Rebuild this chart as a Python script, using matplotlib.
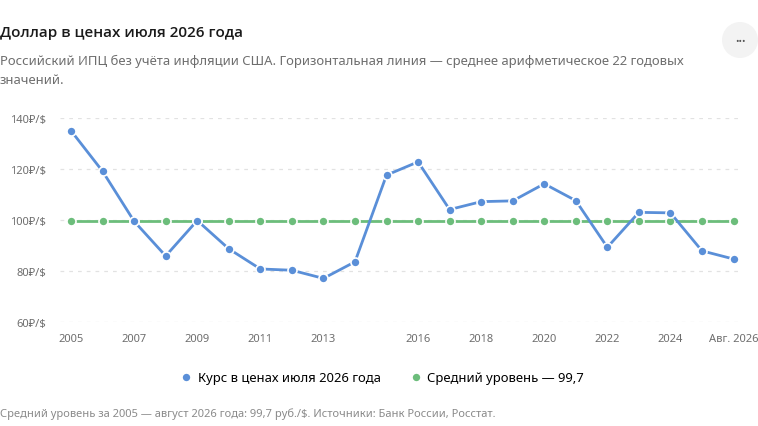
import matplotlib.pyplot as plt
import numpy as np
from matplotlib.patches import Ellipse

plt.rcParams['font.family'] = ['Noto Sans', 'DejaVu Sans']

# data
labels = ["2005", "2006", "2007", "2008", "2009", "2010", "2011", "2012", "2013", "2014",
          "2015", "2016", "2017", "2018", "2019", "2020", "2021", "2022", "2023", "2024",
          "2025", "Авг. 2026"]
rate = [135.0, 119.1, 99.5, 85.9, 99.8, 88.7, 80.8, 80.3, 77.1, 83.6,
        117.6, 122.8, 104.1, 107.2, 107.5, 114.2, 107.6, 89.3, 103.0, 102.8,
        87.9, 84.7]
mean_level = 99.7
shown_ticks = ["2005", "2007", "2009", "2011", "2013", "2016", "2018", "2020", "2022", "2024", "Авг. 2026"]
yticks = [60, 80, 100, 120, 140]

blue = "#5a8fd8"
green = "#6cbd7b"
grey = "#6e6e6e"

fig = plt.figure(figsize=(7.58, 4.27), dpi=100)
W, H = 758, 427
ax = fig.add_axes([60 / W, 1 - 323 / H, (743 - 60) / W, (323 - 119) / H])

x = np.arange(len(labels))
ax.plot(x, [mean_level] * len(x), color=green, lw=2, marker="o", ms=6.5,
        mfc=green, mec="white", mew=1.2, zorder=3, label="Средний уровень — 99,7")
ax.plot(x, rate, color=blue, lw=2, marker="o", ms=6.5,
        mfc=blue, mec="white", mew=1.2, zorder=4, label="Курс в ценах июля 2026 года")

ax.set_xlim(-0.35, len(x) - 1 + 0.3)
ax.set_ylim(60, 140)
ax.set_yticks(yticks)
ax.set_yticklabels([f"{v}₽/$" for v in yticks])
ax.set_xticks([labels.index(t) for t in shown_ticks])
ax.set_xticklabels(shown_ticks)
ax.tick_params(axis="both", length=0, labelsize=8, colors=grey)
ax.tick_params(axis="y", pad=10)
ax.tick_params(axis="x", pad=8)
for s in ax.spines.values():
    s.set_visible(False)
ax.grid(axis="y", color="#e2e2e2", lw=0.9, ls=(0, (3, 4)))
ax.set_axisbelow(True)

# legend order: blue first, green second
h, l = ax.get_legend_handles_labels()
leg = fig.legend(h[::-1], l[::-1], loc="center", bbox_to_anchor=(383 / W, 1 - 379 / H),
                 ncol=2, frameon=False, fontsize=9.4, handlelength=0.7, handletextpad=0.5,
                 columnspacing=2.4, markerscale=1.0)
for lh in leg.legend_handles:
    lh.set_linestyle("none")
    lh.set_markeredgecolor("white")

fig.text(0, 1 - 33 / H, "Доллар в ценах июля 2026 года", fontsize=11, fontweight="semibold",
         family=["Open Sans", "DejaVu Sans"], color="#1a1a1a", va="center", ha="left")
fig.text(0, 1 - 61 / H, "Российский ИПЦ без учёта инфляции США. Горизонтальная линия — среднее арифметическое 22 годовых",
         fontsize=9.4, color=grey, va="center", ha="left")
fig.text(0, 1 - 81 / H, "значений.", fontsize=9.4, color=grey, va="center", ha="left")
fig.text(0, 1 - 414 / H, "Средний уровень за 2005 — август 2026 года: 99,7 руб./$. Источники: Банк России, Росстат.",
         fontsize=8, color="#8a8a8a", va="center", ha="left")

# "..." menu button
fig.patches.append(Ellipse((740 / W, 1 - 41 / H), 36 / W, 36 / H, transform=fig.transFigure,
                           facecolor="#f3f3f3", edgecolor="none"))
fig.text(740 / W, 1 - 41 / H, "•••", fontsize=6.5, color="#555555", ha="center", va="center")

fig.savefig("out.png", dpi=100, facecolor="white")
